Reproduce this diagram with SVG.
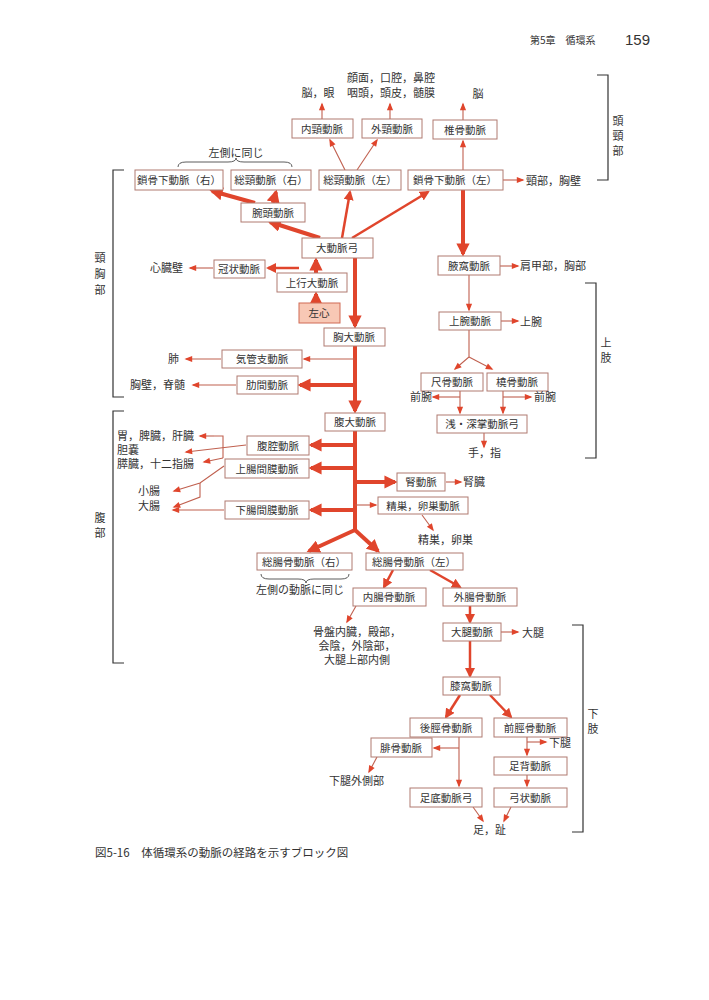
<svg xmlns="http://www.w3.org/2000/svg" width="709" height="1000" viewBox="0 0 709 1000">
<defs>
<style>
text{font-family:"Noto Sans CJK JP","Noto Sans",sans-serif;font-size:11px;fill:#333}
.b rect{fill:#fff;stroke:#b07a70;stroke-width:1}
.b text{text-anchor:middle;font-size:10.5px}
.k{stroke:#e0452c;fill:none;stroke-width:4}
.m{stroke:#e0452c;fill:none;stroke-width:2.5}
.t{stroke:#c0604f;fill:none;stroke-width:1.1}
.br{stroke:#333;fill:none;stroke-width:1.2}
</style>
<marker id="ak" viewBox="0 0 10 10" refX="8" refY="5" markerWidth="3.3" markerHeight="3.3" orient="auto"><path d="M0,0L10,5L0,10z" fill="#e0452c"/></marker>
<marker id="am" viewBox="0 0 10 10" refX="8" refY="5" markerWidth="4" markerHeight="4" orient="auto"><path d="M0,0L10,5L0,10z" fill="#e0452c"/></marker>
<marker id="at" viewBox="0 0 10 10" refX="8" refY="5" markerWidth="8" markerHeight="7" orient="auto"><path d="M0,1L10,5L0,9z" fill="#e0452c"/></marker>
</defs>
<rect width="709" height="1000" fill="#fff"/>
<text x="530" y="44" style="font-size:10px">第5章　循環系</text>
<text x="625" y="45" style="font-size:15px;font-family:'Liberation Sans',sans-serif">159</text>

<g id="connectors">
<path class="k" d="M316,303V294" marker-end="url(#ak)"/>
<path class="k" d="M316,273V260" marker-end="url(#ak)"/>
<path class="k" d="M355,258V326" marker-end="url(#ak)"/>
<path class="k" d="M355,346V411" marker-end="url(#ak)"/>
<path class="k" d="M355,431V530"/>
<path class="k" d="M355,530L309,551" marker-end="url(#ak)"/>
<path class="k" d="M355,530L378,551" marker-end="url(#ak)"/>
<path class="k" d="M320,238L270,222" marker-end="url(#ak)"/>
<path class="k" d="M255,203L212,191" marker-end="url(#ak)"/>
<path class="k" d="M273,203L276,192" marker-end="url(#ak)"/>
<path class="m" d="M342,238L350,192" marker-end="url(#am)"/>
<path class="m" d="M352,238L428,192" marker-end="url(#am)"/>
<path class="k" d="M463,190V254" marker-end="url(#ak)"/>
<path class="k" d="M355,385H300" marker-end="url(#ak)"/>
<path class="k" d="M355,445H311" marker-end="url(#ak)"/>
<path class="k" d="M355,468H311" marker-end="url(#ak)"/>
<path class="k" d="M355,510H311" marker-end="url(#ak)"/>
<path class="k" d="M355,482H395" marker-end="url(#ak)"/>
<path class="m" d="M299,268H268" marker-end="url(#am)"/>
<path class="t" d="M213,268H190" marker-end="url(#at)"/>
<path class="t" d="M355,359H304" marker-end="url(#at)"/>
<path class="t" d="M221,359H186" marker-end="url(#at)"/>
<path class="t" d="M236,385H193" marker-end="url(#at)"/>
<path class="t" d="M355,505H376" marker-end="url(#at)"/>
<path class="t" d="M422,515L433,530" marker-end="url(#at)"/>
<path class="t" d="M246,445L186,452" marker-end="url(#at)"/>
<path class="t" d="M214,436H223V458" /><path class="t" d="M214,436H200" marker-end="url(#at)"/>
<path class="t" d="M223,458L204,462" marker-end="url(#at)"/>
<path class="t" d="M224,466L200,483L174,491" marker-end="url(#at)"/>
<path class="t" d="M200,483V497L174,507" marker-end="url(#at)"/>
<path class="t" d="M224,510H173" marker-end="url(#at)"/>
<path class="t" d="M446,482H461" marker-end="url(#at)"/>
<path class="t" d="M463,170V141" marker-end="url(#at)"/>
<path class="t" d="M463,120V104" marker-end="url(#at)"/>
<path class="t" d="M345,170L330,140" marker-end="url(#at)"/>
<path class="t" d="M357,170L377,140" marker-end="url(#at)"/>
<path class="t" d="M322,119V104" marker-end="url(#at)"/>
<path class="t" d="M390,119V104" marker-end="url(#at)"/>
<path class="t" d="M503,180H523" marker-end="url(#at)"/>
<path class="t" d="M500,266H518" marker-end="url(#at)"/>
<path class="t" d="M469,275V310" marker-end="url(#at)"/>
<path class="t" d="M501,321H518" marker-end="url(#at)"/>
<path class="t" d="M469,330V357L455,369" marker-end="url(#at)"/>
<path class="t" d="M469,357L492,369" marker-end="url(#at)"/>
<path class="t" d="M460,391V413" marker-end="url(#at)"/>
<path class="t" d="M460,397H433" marker-end="url(#at)"/>
<path class="t" d="M503,391V413" marker-end="url(#at)"/>
<path class="t" d="M503,397H531" marker-end="url(#at)"/>
<path class="t" d="M484,433V447" marker-end="url(#at)"/>
<path class="m" d="M393,570L384,587" marker-end="url(#am)"/>
<path class="m" d="M430,570L460,587" marker-end="url(#am)"/>
<path class="t" d="M356,606L347,622" marker-end="url(#at)"/>
<path class="m" d="M470,606V622" marker-end="url(#am)"/>
<path class="t" d="M501,632H518" marker-end="url(#at)"/>
<path class="m" d="M470,641V676" marker-end="url(#am)"/>
<path class="m" d="M460,695L446,717" marker-end="url(#am)"/>
<path class="m" d="M490,695L511,717" marker-end="url(#am)"/>
<path class="t" d="M459,737V786" marker-end="url(#at)"/>
<path class="t" d="M459,748H434" marker-end="url(#at)"/>
<path class="t" d="M377,757L369,772" marker-end="url(#at)"/>
<path class="t" d="M527,737V755" marker-end="url(#at)"/>
<path class="t" d="M527,742H546" marker-end="url(#at)"/>
<path class="t" d="M527,775V786" marker-end="url(#at)"/>
<path class="t" d="M473,807L483,821" marker-end="url(#at)"/>
<path class="t" d="M511,807L504,821" marker-end="url(#at)"/>
</g>

<g class="b">
<g id="n-naikei"><rect x="292" y="119" width="61" height="19"/><text x="322" y="133">内頸動脈</text></g>
<g id="n-gaikei"><rect x="362" y="119" width="60" height="19"/><text x="392" y="133">外頸動脈</text></g>
<g id="n-tsuikotsu"><rect x="433" y="120" width="64" height="19"/><text x="465" y="134">椎骨動脈</text></g>
<g id="n-sakotsuR"><rect x="135" y="170" width="88" height="20"/><text x="179" y="184">鎖骨下動脈（右）</text></g>
<g id="n-soukeiR"><rect x="231" y="170" width="80" height="20"/><text x="271" y="184">総頸動脈（右）</text></g>
<g id="n-soukeiL"><rect x="319" y="170" width="82" height="20"/><text x="360" y="184">総頸動脈（左）</text></g>
<g id="n-sakotsuL"><rect x="408" y="170" width="95" height="20"/><text x="455" y="184">鎖骨下動脈（左）</text></g>
<g id="n-wanto"><rect x="241" y="203" width="64" height="19"/><text x="273" y="217">腕頭動脈</text></g>
<g id="n-daidoumyakukyu"><rect x="302" y="238" width="71" height="20"/><text x="337" y="252">大動脈弓</text></g>
<g id="n-kanjou"><rect x="214" y="260" width="51" height="18"/><text x="239" y="273">冠状動脈</text></g>
<g id="n-joukou"><rect x="277" y="273" width="70" height="19"/><text x="312" y="287">上行大動脈</text></g>
<g id="n-sashin"><rect x="299" y="303" width="41" height="20" style="fill:#f8c8b5;stroke:#d06a55"/><text x="319" y="317">左心</text></g>
<g id="n-kyoudai"><rect x="324" y="328" width="61" height="18"/><text x="354" y="341">胸大動脈</text></g>
<g id="n-kikan"><rect x="222" y="350" width="80" height="18"/><text x="262" y="363">気管支動脈</text></g>
<g id="n-rokkan"><rect x="237" y="376" width="61" height="18"/><text x="267" y="389">肋間動脈</text></g>
<g id="n-fukudai"><rect x="325" y="413" width="60" height="18"/><text x="355" y="426">腹大動脈</text></g>
<g id="n-fukukou"><rect x="247" y="436" width="62" height="19"/><text x="278" y="450">腹腔動脈</text></g>
<g id="n-joucho"><rect x="225" y="459" width="84" height="19"/><text x="267" y="473">上腸間膜動脈</text></g>
<g id="n-jin"><rect x="397" y="473" width="48" height="18"/><text x="421" y="486">腎動脈</text></g>
<g id="n-seisou"><rect x="378" y="497" width="90" height="17"/><text x="423" y="510">精巣，卵巣動脈</text></g>
<g id="n-kacho"><rect x="225" y="501" width="84" height="18"/><text x="267" y="514">下腸間膜動脈</text></g>
<g id="n-ekika"><rect x="438" y="256" width="62" height="19"/><text x="469" y="270">腋窩動脈</text></g>
<g id="n-jouwan"><rect x="439" y="312" width="62" height="18"/><text x="470" y="325">上腕動脈</text></g>
<g id="n-shakkotsu"><rect x="421" y="373" width="62" height="18"/><text x="452" y="386">尺骨動脈</text></g>
<g id="n-toukotsu"><rect x="487" y="373" width="61" height="18"/><text x="517" y="386">橈骨動脈</text></g>
<g id="n-shou"><rect x="437" y="415" width="90" height="18"/><text x="482" y="428">浅・深掌動脈弓</text></g>
<g id="n-souchoR"><rect x="257" y="553" width="95" height="17"/><text x="304" y="566">総腸骨動脈（右）</text></g>
<g id="n-souchoL"><rect x="366" y="553" width="97" height="17"/><text x="414" y="566">総腸骨動脈（左）</text></g>
<g id="n-naicho"><rect x="353" y="588" width="73" height="18"/><text x="389" y="601">内腸骨動脈</text></g>
<g id="n-gaicho"><rect x="443" y="588" width="74" height="18"/><text x="480" y="601">外腸骨動脈</text></g>
<g id="n-daitai"><rect x="443" y="623" width="58" height="18"/><text x="472" y="636">大腿動脈</text></g>
<g id="n-shitsuka"><rect x="443" y="677" width="57" height="18"/><text x="471" y="690">膝窩動脈</text></g>
<g id="n-koukei"><rect x="410" y="718" width="72" height="19"/><text x="446" y="732">後脛骨動脈</text></g>
<g id="n-zenkei"><rect x="494" y="718" width="73" height="19"/><text x="530" y="732">前脛骨動脈</text></g>
<g id="n-hikotsu"><rect x="371" y="738" width="61" height="19"/><text x="401" y="752">腓骨動脈</text></g>
<g id="n-sokuhai"><rect x="494" y="757" width="73" height="18"/><text x="530" y="770">足背動脈</text></g>
<g id="n-sokutei"><rect x="410" y="788" width="72" height="19"/><text x="446" y="802">足底動脈弓</text></g>
<g id="n-kyujou"><rect x="494" y="788" width="73" height="19"/><text x="530" y="802">弓状動脈</text></g>
</g>

<g id="labels">
<text x="318" y="97" text-anchor="middle">脳，眼</text>
<text x="391" y="82" text-anchor="middle">顔面，口腔，鼻腔</text>
<text x="391" y="97" text-anchor="middle">咽頭，頭皮，髄膜</text>
<text x="478" y="98" text-anchor="middle">脳</text>
<text x="526" y="185">頸部，胸壁</text>
<text x="236" y="157" text-anchor="middle">左側に同じ</text>
<text x="150" y="272">心臓壁</text>
<text x="520" y="270">肩甲部，胸部</text>
<text x="520" y="326">上腕</text>
<text x="168" y="363">肺</text>
<text x="130" y="389">胸壁，脊髄</text>
<text x="410" y="401">前腕</text>
<text x="534" y="401">前腕</text>
<text x="468" y="457">手，指</text>
<text x="117" y="440">胃，脾臓，肝臓</text>
<text x="117" y="454">胆嚢</text>
<text x="117" y="468">膵臓，十二指腸</text>
<text x="138" y="495">小腸</text>
<text x="138" y="510">大腸</text>
<text x="463" y="486">腎臓</text>
<text x="418" y="544">精巣，卵巣</text>
<text x="256" y="594">左側の動脈に同じ</text>
<text x="357" y="636" text-anchor="middle">骨盤内臓，殿部，</text>
<text x="357" y="650" text-anchor="middle">会陰，外陰部，</text>
<text x="357" y="664" text-anchor="middle">大腿上部内側</text>
<text x="522" y="637">大腿</text>
<text x="549" y="747">下腿</text>
<text x="329" y="785">下腿外側部</text>
<text x="473" y="834">足，趾</text>
<text x="95" y="857" style="font-size:11.5px">図5-16　体循環系の動脈の経路を示すブロック図</text>
</g>

<g id="brackets">
<path class="br" d="M597,75H608V180H597"/>
<text x="618" y="125" text-anchor="middle">頭</text><text x="618" y="140" text-anchor="middle">頸</text><text x="618" y="155" text-anchor="middle">部</text>
<path class="br" d="M124,170H113V397H124"/>
<text x="100" y="262" text-anchor="middle">頸</text><text x="100" y="278" text-anchor="middle">胸</text><text x="100" y="294" text-anchor="middle">部</text>
<path class="br" d="M585,283H596V458H585"/>
<text x="606" y="347" text-anchor="middle">上</text><text x="606" y="362" text-anchor="middle">肢</text>
<path class="br" d="M124,411H113V663H124"/>
<text x="100" y="522" text-anchor="middle">腹</text><text x="100" y="537" text-anchor="middle">部</text>
<path class="br" d="M572,625H583V832H572"/>
<text x="593" y="718" text-anchor="middle">下</text><text x="593" y="733" text-anchor="middle">肢</text>
<path class="br" style="stroke-width:0.8" d="M178,167Q178,162 186,162H228Q236,162 236,158Q236,162 244,162H284Q292,162 292,167"/>
<path class="br" style="stroke-width:0.8" d="M261,574Q261,579 269,579H298Q306,579 306,583Q306,579 314,579H341Q349,579 349,574"/>
</g>
</svg>
